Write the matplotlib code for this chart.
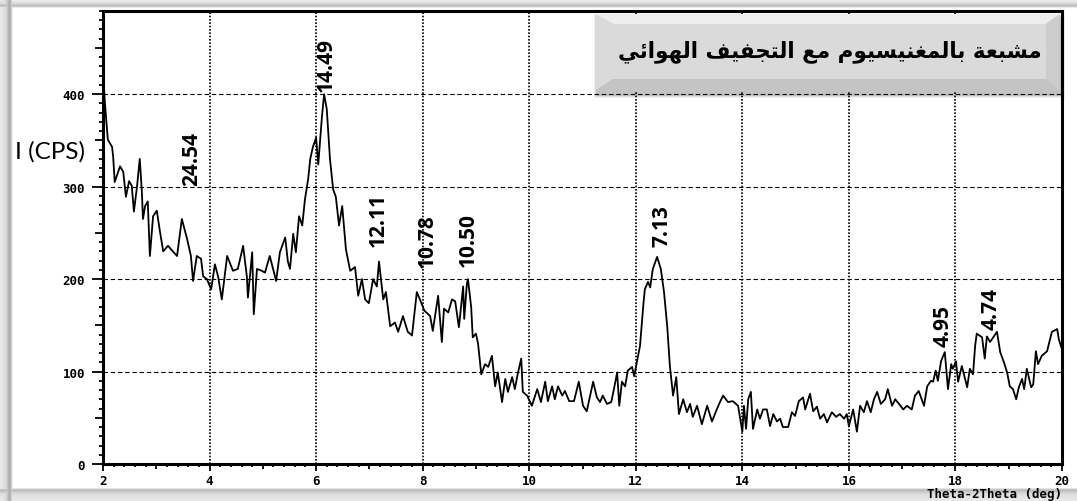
import numpy as np
import matplotlib
matplotlib.use("Agg")
import matplotlib.pyplot as plt
from matplotlib import transforms
from matplotlib.patches import Polygon, Rectangle
from matplotlib.ticker import MultipleLocator

# XRD scan, 2-theta (deg) vs intensity (counts per second)
two_theta = [
    2.00, 2.03, 2.07, 2.09, 2.17, 2.19, 2.22, 2.32, 2.38, 2.43,
    2.49, 2.54, 2.58, 2.64, 2.69, 2.73, 2.75, 2.79, 2.84, 2.88,
    2.94, 3.01, 3.07, 3.13, 3.22, 3.31, 3.39, 3.48, 3.58, 3.65,
    3.69, 3.76, 3.84, 3.88, 3.95, 4.03, 4.10, 4.16, 4.23, 4.33,
    4.44, 4.53, 4.63, 4.70, 4.72, 4.80, 4.83, 4.89, 4.98,
    5.04, 5.13, 5.25, 5.32, 5.42, 5.47, 5.51, 5.57, 5.62, 5.68,
    5.74, 5.79, 5.85, 5.89, 5.94, 6.00, 6.04, 6.11, 6.15, 6.20,
    6.26, 6.32, 6.37, 6.43, 6.49, 6.56, 6.64, 6.73, 6.79, 6.86,
    6.92, 6.99, 7.07, 7.14, 7.18, 7.26, 7.31, 7.39, 7.48, 7.54,
    7.63, 7.72, 7.80, 7.89, 7.97,
    8.03, 8.14, 8.19, 8.29, 8.36, 8.40, 8.48, 8.55, 8.61, 8.68,
    8.76, 8.78, 8.83, 8.85, 8.91, 8.94, 9.00, 9.04, 9.10, 9.17,
    9.23, 9.30, 9.36, 9.41, 9.49, 9.55, 9.60, 9.68, 9.73, 9.79,
    9.85, 9.88, 9.96, 10.05, 10.15, 10.22, 10.30, 10.35, 10.43, 10.48,
    10.54, 10.62, 10.67, 10.75, 10.84, 10.93,
    11.01, 11.08, 11.20, 11.27, 11.33, 11.38, 11.46, 11.54, 11.59, 11.65,
    11.69, 11.74, 11.80, 11.85, 11.93, 11.97, 12.02, 12.08, 12.14, 12.17,
    12.23, 12.27, 12.32, 12.40, 12.47, 12.53, 12.59, 12.64, 12.70, 12.76,
    12.81, 12.89, 12.96, 13.02, 13.07, 13.15, 13.24, 13.34, 13.43, 13.52,
    13.58, 13.64, 13.73, 13.82, 13.92, 14.00,
    14.03, 14.07, 14.11, 14.16, 14.20, 14.28, 14.33, 14.39, 14.46, 14.52,
    14.58, 14.65, 14.71, 14.76, 14.86, 14.93, 14.99, 15.06, 15.14, 15.18,
    15.27, 15.33, 15.40, 15.46, 15.53, 15.59, 15.68, 15.76, 15.83, 15.91,
    15.96, 16.00, 16.08, 16.15, 16.21, 16.28, 16.34, 16.41, 16.47, 16.53,
    16.60, 16.68, 16.73, 16.81, 16.87, 16.94, 17.02,
    17.09, 17.18, 17.24, 17.31, 17.41, 17.47, 17.54, 17.58, 17.63, 17.67,
    17.73, 17.77, 17.80, 17.84, 17.86, 17.92, 17.95, 18.01, 18.05, 18.12,
    18.18, 18.22, 18.27, 18.33, 18.37, 18.40, 18.50, 18.55, 18.59, 18.65,
    18.71, 18.78, 18.84, 18.91, 18.97, 19.02, 19.08, 19.14, 19.19, 19.25,
    19.29, 19.34, 19.42, 19.46, 19.51, 19.55, 19.62, 19.72, 19.81, 19.91,
    19.94, 20.00,
]
counts = [
    430, 395, 365, 351, 343, 333, 305, 322, 316, 289,
    306, 301, 273, 301, 330, 294, 265, 279, 284, 225,
    268, 274, 251, 230, 236, 230, 225, 265, 243, 225,
    198, 225, 222, 203, 200, 189, 216, 203, 178, 225,
    209, 211, 236, 203, 180, 229, 162, 211, 209,
    207, 225, 198, 229, 245, 219, 211, 249, 229, 268,
    258, 286, 308, 330, 343, 353, 324, 376, 400, 384,
    330, 297, 289, 258, 279, 232, 209, 213, 182, 200,
    178, 174, 200, 192, 219, 178, 186, 149, 153, 143,
    160, 143, 139, 186, 175,
    166, 160, 144, 182, 132, 168, 164, 178, 176, 148,
    192, 157, 195, 200, 170, 137, 141, 130, 97, 108,
    105, 117, 84, 99, 67, 92, 78, 94, 81, 99,
    114, 78, 74, 63, 81, 67, 89, 68, 84, 70,
    84, 74, 79, 68, 68, 89,
    63, 57, 89, 72, 67, 74, 65, 67, 81, 99,
    63, 89, 84, 101, 105, 95, 110, 128, 171, 189,
    197, 191, 211, 224, 211, 186, 149, 106, 74, 94,
    54, 70, 56, 65, 51, 63, 43, 63, 46, 59,
    67, 74, 67, 68, 63, 35,
    63, 38, 70, 78, 38, 59, 49, 59, 59, 41,
    54, 46, 49, 40, 40, 56, 52, 68, 72, 59,
    76, 57, 62, 49, 54, 45, 56, 51, 54, 49,
    54, 41, 59, 35, 63, 56, 68, 56, 70, 78,
    65, 70, 81, 63, 70, 65, 59,
    63, 59, 74, 79, 63, 84, 90, 89, 101, 90,
    111, 117, 121, 95, 81, 108, 103, 111, 89, 106,
    92, 83, 103, 97, 128, 141, 137, 114, 138, 132,
    137, 143, 121, 110, 99, 84, 81, 70, 83, 92,
    81, 103, 83, 86, 122, 108, 117, 122, 143, 146,
    135, 124,
]

# d-spacing labels (Angstrom) with their 2-theta position and text base height
peak_labels = ["24.54", "14.49", "12.11", "10.78", "10.50", "7.13", "4.95", "4.74"]
peak_x = [3.67, 6.19, 7.16, 8.08, 8.85, 12.49, 17.77, 18.67]
peak_y = [302, 403, 236, 213, 214, 236, 128, 146]

title = "مشبعة بالمغنيسيوم مع التجفيف الهوائي"

# contextual forms (isolated code point, dual-joining?) for the letters used
ARABIC_FORMS = {
    "ا": (0xFE8D, False), "ب": (0xFE8F, True), "ة": (0xFE93, False),
    "ت": (0xFE95, True), "ج": (0xFE9D, True), "س": (0xFEB1, True),
    "ش": (0xFEB5, True), "ع": (0xFEC9, True), "غ": (0xFECD, True),
    "ف": (0xFED1, True), "ل": (0xFEDD, True), "م": (0xFEE1, True),
    "ن": (0xFEE5, True), "ه": (0xFEE9, True), "و": (0xFEED, False),
    "ي": (0xFEF1, True), "ئ": (0xFE89, True),
}


def shape_arabic(text):
    # matplotlib has no bidi/shaping, so pick joined forms and reverse
    out = []
    for i, ch in enumerate(text):
        if ch not in ARABIC_FORMS:
            out.append(ch)
            continue
        base, dual = ARABIC_FORMS[ch]
        prev = text[i - 1] if i > 0 else ""
        nxt = text[i + 1] if i + 1 < len(text) else ""
        join_prev = prev in ARABIC_FORMS and ARABIC_FORMS[prev][1]
        join_next = dual and nxt in ARABIC_FORMS
        if join_prev and join_next:
            off = 3
        elif join_prev:
            off = 1
        elif join_next:
            off = 2
        else:
            off = 0
        out.append(chr(base + off))
    return "".join(reversed(out))


W, H = 1077, 502
fig = plt.figure(figsize=(W / 100, H / 100), dpi=100)
fig.patch.set_facecolor("white")
# pixel coordinates, origin top-left
PX = transforms.Affine2D().scale(1 / W, -1 / H).translate(0, 1) + fig.transFigure

# soft frame shadow around the picture
bg = np.ones((H, W))
top = [0.93, 0.92, 0.90, 0.88, 0.85, 0.80, 0.74, 0.80, 0.92]
left = [0.92, 0.91, 0.90, 0.89, 0.88, 0.86, 0.83, 0.78, 0.72, 0.68, 0.72, 0.82, 0.93]
bottom = [0.90, 0.78, 0.74, 0.78, 0.82, 0.85, 0.87, 0.88, 0.89, 0.90, 0.90, 0.91, 0.91]
for i, v in enumerate(top):
    bg[i, :] = np.minimum(bg[i, :], v)
for i, v in enumerate(left):
    bg[:, i] = np.minimum(bg[:, i], v)
for i, v in enumerate(bottom):
    bg[H - len(bottom) + i, :] = np.minimum(bg[H - len(bottom) + i, :], v)
fig.figimage(np.dstack([bg, bg, bg]), xo=0, yo=0, origin="upper", zorder=-1)

ax = fig.add_axes([103 / W, 37 / H, 959 / W, 453 / H])
ax.set_facecolor("white")
ax.plot(two_theta, counts, color="black", lw=1.3, zorder=3)
ax.set_xlim(2, 20)
ax.set_ylim(0, 490)

ax.xaxis.set_major_locator(MultipleLocator(2))
ax.xaxis.set_minor_locator(MultipleLocator(0.2))
ax.yaxis.set_major_locator(MultipleLocator(100))
ax.yaxis.set_minor_locator(MultipleLocator(10))
ax.tick_params(which="both", direction="out", top=False, right=False,
               width=1.3, color="black")
ax.tick_params(axis="y", which="major", length=8, pad=5)
ax.tick_params(axis="y", which="minor", length=3)
ax.tick_params(axis="x", which="major", length=5, pad=2)
ax.tick_params(axis="x", which="minor", length=2)
for lab in ax.get_xticklabels() + ax.get_yticklabels():
    lab.set_fontfamily("DejaVu Sans Mono")
    lab.set_fontweight("bold")
    lab.set_fontsize(9)

# medium ticks at every 50 counts and every odd degree
for tick, loc in zip(ax.yaxis.get_minor_ticks(), ax.yaxis.get_minorticklocs()):
    if abs(loc / 50 - round(loc / 50)) < 1e-6:
        tick.tick1line.set_markersize(5.5)
for tick, loc in zip(ax.xaxis.get_minor_ticks(), ax.xaxis.get_minorticklocs()):
    if abs(loc - round(loc)) < 1e-6:
        tick.tick1line.set_markersize(3.5)

ax.yaxis.grid(True, which="major", color="black", linestyle=(0, (4, 2.5)), linewidth=0.8)
ax.xaxis.grid(True, which="major", color="black", linestyle=(0, (1, 1)), linewidth=1.2)
for sp in ax.spines.values():
    sp.set_linewidth(2.2)

for lab, x, y in zip(peak_labels, peak_x, peak_y):
    ax.text(x, y, lab, rotation=90, ha="center", va="bottom",
            fontsize=15, fontweight="bold", family="Open Sans", zorder=4)

fig.text(15 / W, 1 - 152 / H, "I (CPS)", ha="left", va="center",
         fontsize=17.5, family="Lato")
fig.text(1062 / W, 1 - 495 / H, "Theta-2Theta (deg)", ha="right", va="center",
         fontsize=9, fontweight="bold", family="DejaVu Sans Mono")

# bevelled title plate
L, R, T, B = 595, 1060, 15, 92
l, r, t, b = 613, 1046, 25, 80
for grow, alpha in [(6, 0.06), (4, 0.08), (2, 0.12)]:
    fig.add_artist(Rectangle((L + 2 - grow / 2, T + 4 - grow / 2), R - L + grow, B - T + grow,
                             facecolor="black", edgecolor="none", alpha=alpha, transform=PX))
bevel = [
    ([(L, T), (R, T), (r, t), (l, t)], "#ededed"),
    ([(L, T), (l, t), (l, b), (L, B)], "#dadada"),
    ([(L, B), (l, b), (r, b), (R, B)], "#c4c4c4"),
    ([(R, T), (R, B), (r, b), (r, t)], "#cccccc"),
]
for pts, col in bevel:
    fig.add_artist(Polygon(pts, closed=True, facecolor=col, edgecolor="none", transform=PX))
fig.add_artist(Rectangle((l, t), r - l, b - t, facecolor="#dadada", edgecolor="none", transform=PX))
fig.text(830 / W, 1 - 52 / H, shape_arabic(title), ha="center", va="center",
         fontsize=15.5, fontweight="bold", family="DejaVu Sans")

fig.savefig("out.png", dpi=100)
